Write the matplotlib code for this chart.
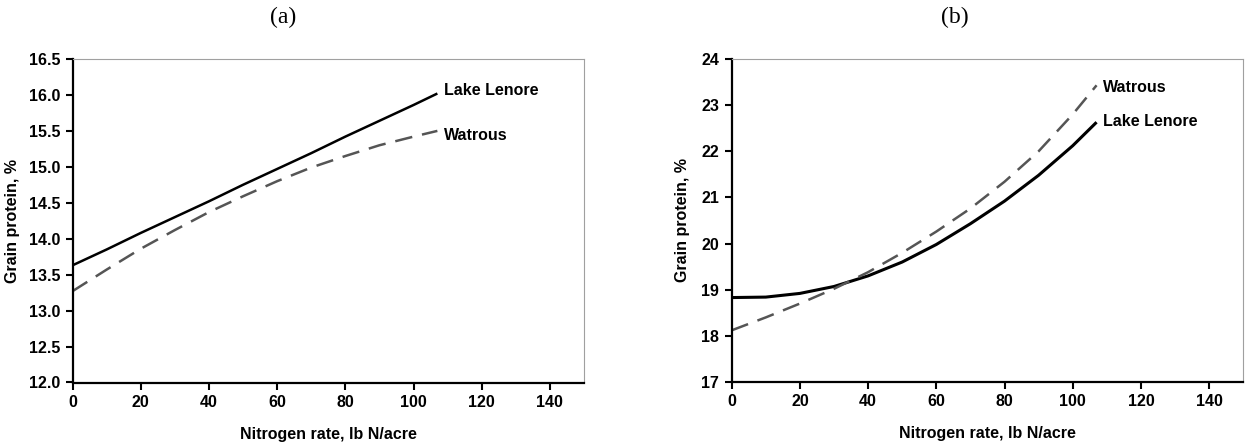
import matplotlib
matplotlib.use("Agg")
import matplotlib.pyplot as plt
from matplotlib.ticker import FormatStrFormatter

# nitrogen rate, lb N/acre
x_n = [0, 10, 20, 30, 40, 50, 60, 70, 80, 90, 100, 107]

# (a) grain protein, %
a_lenore = [13.63, 13.85, 14.08, 14.30, 14.52, 14.75, 14.97, 15.19, 15.42, 15.64, 15.86, 16.02]
a_watrous = [13.27, 13.57, 13.86, 14.12, 14.37, 14.59, 14.80, 14.99, 15.15, 15.30, 15.42, 15.50]

# (b) grain protein, %
b_lenore = [18.83, 18.84, 18.92, 19.07, 19.30, 19.60, 19.98, 20.43, 20.92, 21.48, 22.12, 22.63]
b_watrous = [18.12, 18.40, 18.70, 19.02, 19.38, 19.80, 20.26, 20.76, 21.34, 22.00, 22.80, 23.43]

x_ticks = [0, 20, 40, 60, 80, 100, 120, 140]
a_yticks = [12.0, 12.5, 13.0, 13.5, 14.0, 14.5, 15.0, 15.5, 16.0, 16.5]
b_yticks = [17, 18, 19, 20, 21, 22, 23, 24]

plt.rcParams["font.family"] = ["Liberation Sans", "DejaVu Sans"]
plt.rcParams["font.weight"] = "bold"
FS = 11.5

fig = plt.figure(figsize=(12.57, 4.46), dpi=100)
W, H = 1257.0, 446.0
ax_a = fig.add_axes([72.5 / W, 1 - 382.5 / H, 511.5 / W, 323.5 / H])
ax_b = fig.add_axes([731.7 / W, 1 - 382.0 / H, 511.5 / W, 323.0 / H])


def style(ax, yticks, fmt, labelpad):
    ax.set_xlim(0, 150)
    ax.set_ylim(yticks[0], yticks[-1])
    ax.set_xticks(x_ticks)
    ax.set_yticks(yticks)
    ax.yaxis.set_major_formatter(FormatStrFormatter(fmt))
    for s in ["left", "bottom"]:
        ax.spines[s].set_linewidth(1.6)
        ax.spines[s].set_color("black")
    for s in ["top", "right"]:
        ax.spines[s].set_linewidth(0.8)
        ax.spines[s].set_color("#a0a0a0")
    ax.tick_params(direction="out", length=5, width=1.5, labelsize=FS, pad=4)
    for lab in ax.get_xticklabels() + ax.get_yticklabels():
        lab.set_fontweight("bold")
    ax.set_xlabel("Nitrogen rate, lb N/acre", fontsize=FS, fontweight="bold", labelpad=12)
    ax.set_ylabel("Grain protein, %", fontsize=FS, fontweight="bold", labelpad=labelpad)


# panel (a)
ax_a.plot(x_n, a_lenore, color="black", lw=1.8, solid_capstyle="butt")
ax_a.plot(x_n, a_watrous, color="#555555", lw=1.8, dashes=(7, 4))
style(ax_a, a_yticks, "%.1f", 6)
ax_a.text(109, 16.06, "Lake Lenore", fontsize=FS, fontweight="bold", va="center", ha="left")
ax_a.text(109, 15.43, "Watrous", fontsize=FS, fontweight="bold", va="center", ha="left")

# panel (b)
ax_b.plot(x_n, b_lenore, color="black", lw=2.2, solid_capstyle="butt")
ax_b.plot(x_n, b_watrous, color="#555555", lw=1.8, dashes=(7, 4))
style(ax_b, b_yticks, "%d", 8)
ax_b.text(109, 23.39, "Watrous", fontsize=FS, fontweight="bold", va="center", ha="left")
ax_b.text(109, 22.64, "Lake Lenore", fontsize=FS, fontweight="bold", va="center", ha="left")

fig.text(283 / W, 1 - 17 / H, "(a)", family="Liberation Serif", fontsize=17,
         fontweight="normal", ha="center", va="center")
fig.text(955 / W, 1 - 17 / H, "(b)", family="Liberation Serif", fontsize=17,
         fontweight="normal", ha="center", va="center")

fig.savefig("out.png", dpi=100)
